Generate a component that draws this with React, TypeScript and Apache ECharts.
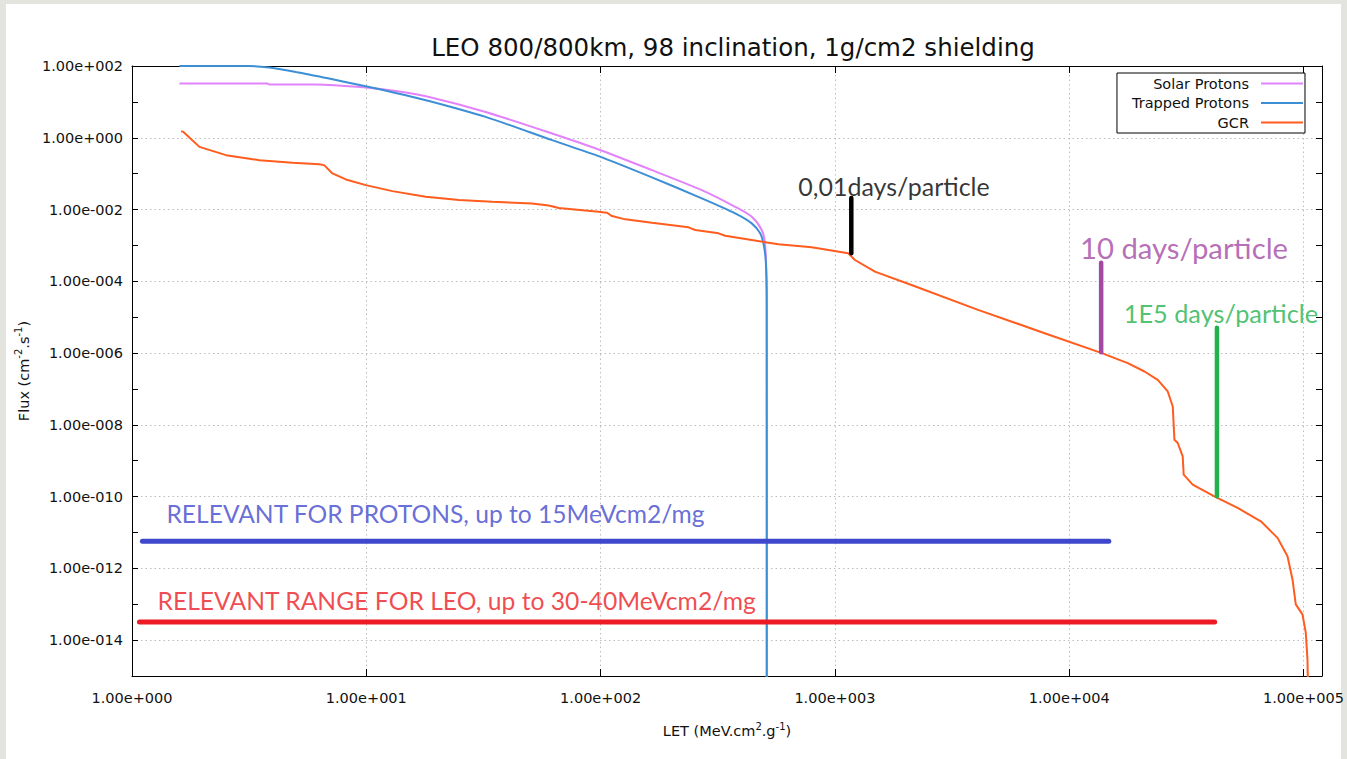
import React, { useEffect, useRef } from 'react';
import * as echarts from 'echarts';

const TITLE = 'LEO 800/800km, 98 inclination, 1g/cm2 shielding';
const SERIES_NAMES = ['Solar Protons', 'Trapped Protons', 'GCR'];
const SERIES_COLORS = ['#e283fb', '#3c8fd5', '#ff5c1e'];
const SERIES_SMOOTH = [0.25, 0.25, 0];

// LET (MeV.cm2/g) and flux (cm-2.s-1)
const solarLET = [1.594, 3.79, 3.853, 6.09, 9.95, 13.36, 18.52, 32.3, 62.1, 98.1, 165.6, 270.4, 375.3, 441.7, 487.2, 503.8, 511.7, 512];
const solarFlux = [32.5, 32.5, 30.4, 30.4, 25.1, 20.1, 13.7, 5.25, 1.315, 0.472, 0.1253, 0.0348, 0.01194, 0.00629, 0.00268, 0.001026, 3.0e-5, 1e-16];

const trappedLET = [1.594, 3.168, 3.853, 5.008, 6.941, 9.95, 13.36, 18.52, 32.3, 62.1, 98.1, 165.6, 270.4, 375.3, 441.7, 479.7, 495.4, 506.7, 511.7, 512];
const trappedFlux = [100, 100, 90.2, 68.1, 44.6, 27.2, 17.7, 10.6, 3.81, 0.857, 0.307, 0.0785, 0.0205, 0.00782, 0.00412, 0.00217, 0.00114, 3.93e-4, 3.0e-5, 1e-16];

const gcrLET = [1.621, 1.658, 1.94, 2.52, 3.494, 4.843, 6.293, 6.61, 7.17, 8.18, 9.95, 12.92, 17.93, 24.86, 34.45, 51.0, 60.1, 66.3, 98.1, 106.5, 111.8, 127.6, 165.6, 237.4, 253.5, 318.7, 340.2, 441.7, 574, 795.6, 1140, 1218, 1482, 2123, 4083, 7858, 13688, 17786, 20960, 23880, 26340, 27670, 28130, 29060, 30510, 30810, 33650, 41650, 52340, 65770, 77500, 85460, 89770, 92720, 99000, 102280, 104000, 105000];
const gcrFlux = [1.524, 1.457, 0.557, 0.3275, 0.2377, 0.2, 0.184, 0.1726, 0.1014, 0.069, 0.0479, 0.0326, 0.02265, 0.01833, 0.01644, 0.01466, 0.01289, 0.01099, 0.00867, 0.00813, 0.00658, 0.00532, 0.00428, 0.00319, 0.00268, 0.00217, 0.00186, 0.00141, 0.001073, 8.86e-4, 6.03e-4, 3.92e-4, 1.854e-4, 7.9e-5, 1.594e-5, 3.58e-6, 1.014e-6, 5.24e-7, 3.06e-7, 1.8e-7, 8.5e-8, 3.25e-8, 3.85e-9, 3.12e-9, 1.32e-9, 4.09e-10, 2.16e-10, 1.018e-10, 4.84e-11, 2.05e-11, 7.08e-12, 2.18e-12, 4.9e-13, 9.9e-14, 5.2e-14, 1.61e-14, 2.9e-15, 1e-16];

// Annotation markers (vertical lines): LET, top flux, bottom flux
const markerLET = [1175, 13690, 42720];
const markerTop = [0.0208, 3.3e-4, 5.04e-6];
const markerBottom = [6.07e-4, 1.05e-6, 1.03e-10];
const markerColors = ['#000000', '#a349a4', '#22b14c'];

// Relevance ranges (horizontal lines)
const rangeStart = [1.108, 1.076];
const rangeEnd = [14760, 41760];
const rangeFlux = [5.7e-12, 3.2e-14];
const rangeColors = ['#3f48cc', '#ed1c24'];

// Annotation texts
const noteTexts = ['0,01days/particle', '10 days/particle', '1E5 days/particle', 'RELEVANT FOR PROTONS, up to 15MeVcm2/mg', 'RELEVANT RANGE FOR LEO, up to 30-40MeVcm2/mg'];
const noteLET = [698, 11110, 17100, 1.403, 1.284];
const noteFlux = [0.045, 9.0e-4, 1.32e-5, 3.36e-11, 1.28e-13];
const noteColors = ['#000000', '#a349a4', '#22b14c', '#3f48cc', '#ed1c24'];
const noteSizes = [25, 29.3, 25.3, 24.6, 24.7];

const X_MIN = 1;
const X_MAX = 1.2e5;
const Y_MIN = 1e-15;
const Y_MAX = 1e2;

const FONT = 'DejaVu Sans';
const NOTE_FONT = 'Lato';

const isDecade = (v: number) => Math.abs(Math.log10(v) - Math.round(Math.log10(v))) < 1e-6;
const fmtExp = (v: number) => {
  const e = Math.round(Math.log10(v));
  return '1.00e' + (e < 0 ? '-' : '+') + String(Math.abs(e)).padStart(3, '0');
};

const zip = (a: number[], b: number[]) => a.map((v, i) => [v, b[i]]);

export default function App() {
  const ref = useRef<HTMLDivElement>(null);
  useEffect(() => {
    const chart = echarts.init(ref.current!, null, { renderer: 'svg' });
    const tickStyle = { color: '#000', width: 1 };
    const gridLine = { type: [1.5, 3] as any, color: '#bdbdbd', width: 1 };
    const xCommon = {
      type: 'log' as const,
      logBase: 10,
      min: X_MIN,
      max: X_MAX,
      interval: 1,
      axisLine: { show: true, lineStyle: { color: '#000', width: 1 } },
      axisTick: { show: true, inside: true, length: 7, lineStyle: tickStyle },
    };
    const yCommon = {
      type: 'log' as const,
      logBase: 10,
      min: Y_MIN,
      max: Y_MAX,
      interval: 1,
      splitNumber: 17,
      axisLine: { show: true, lineStyle: { color: '#000', width: 1 } },
      axisTick: { show: true, inside: true, length: 6, lineStyle: tickStyle },
    };
    const lineSeries = [
      zip(solarLET, solarFlux),
      zip(trappedLET, trappedFlux),
      zip(gcrLET, gcrFlux),
    ].map((d, i) => ({
      name: SERIES_NAMES[i],
      type: 'line',
      data: d,
      showSymbol: false,
      symbol: 'none',
      smooth: SERIES_SMOOTH[i],
      lineStyle: { color: SERIES_COLORS[i], width: 2 },
      itemStyle: { color: SERIES_COLORS[i] },
      silent: true,
      z: 2 + i,
    }));
    const markerSeries = markerLET.map((x, i) => ({
      type: 'line',
      data: [[x, markerTop[i]], [x, markerBottom[i]]],
      symbol: 'none',
      lineStyle: { color: markerColors[i], width: 4.5, cap: 'round' },
      silent: true,
      z: 10,
    }));
    const rangeSeries = rangeFlux.map((y, i) => ({
      type: 'line',
      data: [[rangeStart[i], y], [rangeEnd[i], y]],
      symbol: 'none',
      lineStyle: { color: rangeColors[i], width: 5, cap: 'round' },
      silent: true,
      z: 10,
    }));
    const noteSeries = {
      type: 'scatter',
      symbolSize: 0,
      silent: true,
      z: 11,
      data: noteTexts.map((t, i) => ({
        value: [noteLET[i], noteFlux[i]],
        label: {
          show: true,
          position: 'right',
          distance: 0,
          formatter: t,
          color: noteColors[i],
          fontSize: noteSizes[i],
          fontFamily: NOTE_FONT,
        },
      })),
    };

    chart.setOption({
      animation: false,
      backgroundColor: 'transparent',
      textStyle: { fontFamily: FONT },
      title: {
        text: TITLE,
        left: 728,
        top: 27,
        textAlign: 'center',
        textStyle: { fontFamily: FONT, fontSize: 24.5, fontWeight: 'normal', color: '#111', lineHeight: 30 },
      },
      legend: {
        data: SERIES_NAMES,
        orient: 'vertical',
        align: 'right',
        right: 42,
        top: 73,
        padding: [3, 1, 3, 15],
        itemGap: 4.5,
        itemWidth: 42,
        itemHeight: 14,
        backgroundColor: '#fff',
        borderColor: '#000',
        borderWidth: 1,
        borderRadius: 0,
        selectedMode: false,
        itemStyle: { opacity: 0 },
        textStyle: { fontFamily: FONT, fontSize: 14.5, color: '#111', padding: [0, 7, 0, 0] },
      },
      grid: { left: 132, right: 23, top: 66, bottom: 83, show: false },
      xAxis: [
        {
          ...xCommon,
          position: 'bottom',
          name: '{n|LET (MeV.cm}{s|2}{n|.g}{s|-1}{n|)}',
          nameLocation: 'middle',
          nameGap: 45,
          nameTextStyle: {
            rich: {
              n: { fontFamily: FONT, fontSize: 14.5, color: '#111', lineHeight: 20 },
              s: { fontFamily: FONT, fontSize: 10, color: '#111', lineHeight: 10, verticalAlign: 'top' },
            },
          },
          axisLabel: {
            show: true,
            margin: 14,
            fontFamily: FONT,
            fontSize: 14.5,
            color: '#111',
            formatter: (v: number) => (isDecade(v) ? fmtExp(v) : ''),
          },
          splitLine: { show: true, lineStyle: gridLine },
        },
        {
          ...xCommon,
          position: 'top',
          axisLabel: { show: false },
          splitLine: { show: false },
        },
      ],
      yAxis: [
        {
          ...yCommon,
          position: 'left',
          name: '{n|Flux (cm}{s|-2}{n|.s}{s|-1}{n|)}',
          nameLocation: 'middle',
          nameGap: 95,
          nameTextStyle: {
            rich: {
              n: { fontFamily: FONT, fontSize: 14.5, color: '#111', lineHeight: 20 },
              s: { fontFamily: FONT, fontSize: 10, color: '#111', lineHeight: 10, verticalAlign: 'top' },
            },
          },
          axisLabel: {
            show: true,
            margin: 9,
            fontFamily: FONT,
            fontSize: 14.5,
            color: '#111',
            formatter: (v: number) => {
              if (!isDecade(v)) return '';
              const e = Math.round(Math.log10(v));
              return e % 2 === 0 ? fmtExp(v) : '';
            },
          },
          splitLine: { show: true, lineStyle: { ...gridLine, color: ['rgba(0,0,0,0)', '#bdbdbd'] } },
        },
        {
          ...yCommon,
          position: 'right',
          axisLabel: { show: false },
          splitLine: { show: false },
        },
      ],
      series: [...lineSeries, ...rangeSeries, ...markerSeries, noteSeries],
    });
    return () => chart.dispose();
  }, []);
  return (
    <div style={{ position: 'fixed', left: 0, top: 0, width: 1347, height: 759, background: '#e4e4de' }}>
      <div style={{ position: 'absolute', left: 6, top: 4, width: 1335, height: 755, background: '#ffffff' }} />
      <div ref={ref} style={{ position: 'absolute', left: 0, top: 0, width: 1347, height: 759 }} />
    </div>
  );
}
